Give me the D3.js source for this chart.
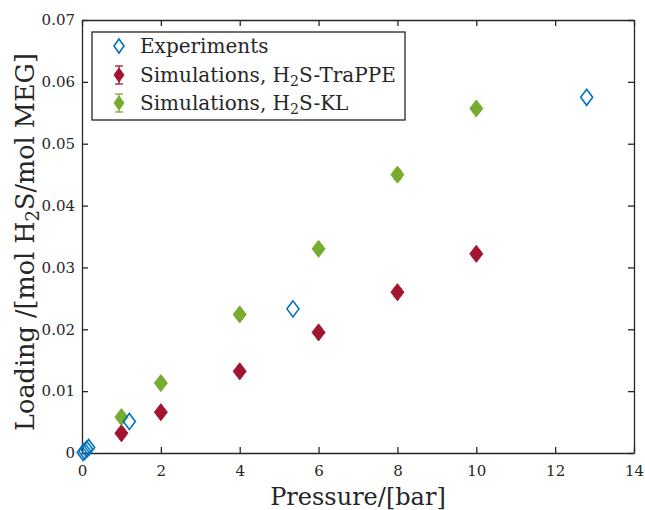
<!DOCTYPE html>
<html><head><meta charset="utf-8">
<script src="https://cdn.jsdelivr.net/npm/d3@7/dist/d3.min.js"></script>
<style>body{margin:0;background:#fff}svg{display:block}</style>
</head><body><div id="chart"></div>
<script>
// ---- data ----
const expP   = [0.03, 0.07, 0.12, 0.17, 1.2, 5.35, 12.8];
const expL   = [0.0001, 0.0003, 0.0006, 0.0009, 0.0051, 0.0233, 0.0575];
const simP   = [1, 2, 4, 6, 8, 10];
const trappeL = [0.0032, 0.0066, 0.0132, 0.0195, 0.0260, 0.0322];
const trappeE = [0.0003, 0.0003, 0.0004, 0.0004, 0.0006, 0.0005];
const klL    = [0.0058, 0.0113, 0.0224, 0.0330, 0.0450, 0.0557];
const klE    = [0.0003, 0.0003, 0.0004, 0.0004, 0.0007, 0.0005];
const xTicks = [0, 2, 4, 6, 8, 10, 12, 14];
const yTicks = [0, 0.01, 0.02, 0.03, 0.04, 0.05, 0.06, 0.07];
const yTickLabels = ["0", "0.01", "0.02", "0.03", "0.04", "0.05", "0.06", "0.07"];

const W = 645, H = 510;
const m = {l: 82, r: 11, t: 20, b: 57};
const font = "DejaVu Serif, Liberation Serif, serif";
const cBlue = "#0072BD", cRed = "#A2142F", cGreen = "#77AC30";

const svg = d3.select("#chart").append("svg").attr("width", W).attr("height", H);
const x = d3.scaleLinear().domain([0, 14]).range([m.l, W - m.r]);
const y = d3.scaleLinear().domain([0, 0.07]).range([H - m.b, m.t]);

const diamond = (cx, cy, w, h) => `M${cx},${cy - h/2}L${cx + w/2},${cy}L${cx},${cy + h/2}L${cx - w/2},${cy}Z`;

// axes (ticks inward, box)
const tl = 6;
const axB = svg.append("g").attr("transform", `translate(0,${y(0)})`)
  .call(d3.axisBottom(x).tickValues(xTicks).tickSizeInner(-tl).tickSizeOuter(0).tickPadding(12).tickFormat(d3.format("d")));
const axT = svg.append("g").attr("transform", `translate(0,${y(0.07)})`)
  .call(d3.axisTop(x).tickValues(xTicks).tickSizeInner(-tl).tickSizeOuter(0).tickFormat(""));
const axL = svg.append("g").attr("transform", `translate(${x(0)},0)`)
  .call(d3.axisLeft(y).tickValues(yTicks).tickSizeInner(-tl).tickSizeOuter(0).tickPadding(7).tickFormat((d, i) => yTickLabels[i]));
const axR = svg.append("g").attr("transform", `translate(${x(14)},0)`)
  .call(d3.axisRight(y).tickValues(yTicks).tickSizeInner(-tl).tickSizeOuter(0).tickFormat(""));
[axB, axT, axL, axR].forEach(g => {
  g.attr("font-family", null).attr("font-size", null);
  g.selectAll("path").attr("stroke", "#262626").attr("stroke-width", 1.3);
  g.selectAll("line").attr("stroke", "#262626").attr("stroke-width", 1.3);
  g.selectAll("text").attr("fill", "#262626").attr("font-family", font).attr("font-size", 15);
});

// error bars + markers
function simSeries(vals, errs, color) {
  const g = svg.append("g");
  simP.forEach((p, i) => {
    const cx = x(p), y1 = y(vals[i] - errs[i]), y2 = y(vals[i] + errs[i]);
    g.append("line").attr("x1", cx).attr("x2", cx).attr("y1", y1).attr("y2", y2).attr("stroke", color).attr("stroke-width", 1.3);
    g.append("line").attr("x1", cx - 4).attr("x2", cx + 4).attr("y1", y1).attr("y2", y1).attr("stroke", color).attr("stroke-width", 1.3);
    g.append("line").attr("x1", cx - 4).attr("x2", cx + 4).attr("y1", y2).attr("y2", y2).attr("stroke", color).attr("stroke-width", 1.3);
    g.append("path").attr("d", diamond(cx, y(vals[i]), 13, 17)).attr("fill", color).attr("stroke", color).attr("stroke-width", 1);
  });
}
simSeries(trappeL, trappeE, cRed);
simSeries(klL, klE, cGreen);

svg.append("g").selectAll("path").data(expP).join("path")
  .attr("d", (p, i) => diamond(x(p), y(expL[i]), 12, 16))
  .attr("fill", "none").attr("stroke", cBlue).attr("stroke-width", 1.6);

// legend
const lg = svg.append("g");
lg.append("rect").attr("x", 92).attr("y", 32).attr("width", 313).attr("height", 88)
  .attr("fill", "#fff").attr("stroke", "#262626").attr("stroke-width", 1.3);
const rows = [46, 75, 103];
const mx = 119, tx = 140;
lg.append("path").attr("d", diamond(mx, rows[0], 10, 14)).attr("fill", "none").attr("stroke", cBlue).attr("stroke-width", 1.6);
[[cRed, rows[1]], [cGreen, rows[2]]].forEach(([c, ry]) => {
  lg.append("line").attr("x1", mx).attr("x2", mx).attr("y1", ry - 9).attr("y2", ry + 9).attr("stroke", c).attr("stroke-width", 1.3);
  lg.append("line").attr("x1", mx - 4).attr("x2", mx + 4).attr("y1", ry - 9).attr("y2", ry - 9).attr("stroke", c).attr("stroke-width", 1.3);
  lg.append("line").attr("x1", mx - 4).attr("x2", mx + 4).attr("y1", ry + 9).attr("y2", ry + 9).attr("stroke", c).attr("stroke-width", 1.3);
  lg.append("path").attr("d", diamond(mx, ry, 10, 14)).attr("fill", c).attr("stroke", c);
});
const lt = (ry) => lg.append("text").attr("x", tx).attr("y", ry + 7).attr("fill", "#262626")
  .attr("font-family", font).attr("font-size", 20);
lt(rows[0]).text("Experiments");
{
  const t = lt(rows[1]);
  t.append("tspan").text("Simulations, H");
  t.append("tspan").attr("dy", 4).attr("font-size", 14).text("2");
  t.append("tspan").attr("dy", -4).text("S-TraPPE");
}
{
  const t = lt(rows[2]);
  t.append("tspan").text("Simulations, H");
  t.append("tspan").attr("dy", 4).attr("font-size", 14).text("2");
  t.append("tspan").attr("dy", -4).text("S-KL");
}

// axis labels
svg.append("text").attr("x", x(7)).attr("y", 505).attr("text-anchor", "middle")
  .attr("fill", "#262626").attr("font-family", font).attr("font-size", 24).text("Pressure/[bar]");
{
  const t = svg.append("text").attr("transform", `translate(34,242) rotate(-90)`)
    .attr("text-anchor", "middle").attr("fill", "#262626").attr("font-family", font).attr("font-size", 25.5);
  t.append("tspan").text("Loading /[mol H");
  t.append("tspan").attr("dy", 5).attr("font-size", 18).text("2");
  t.append("tspan").attr("dy", -5).text("S/mol MEG]");
}
</script></body></html>
